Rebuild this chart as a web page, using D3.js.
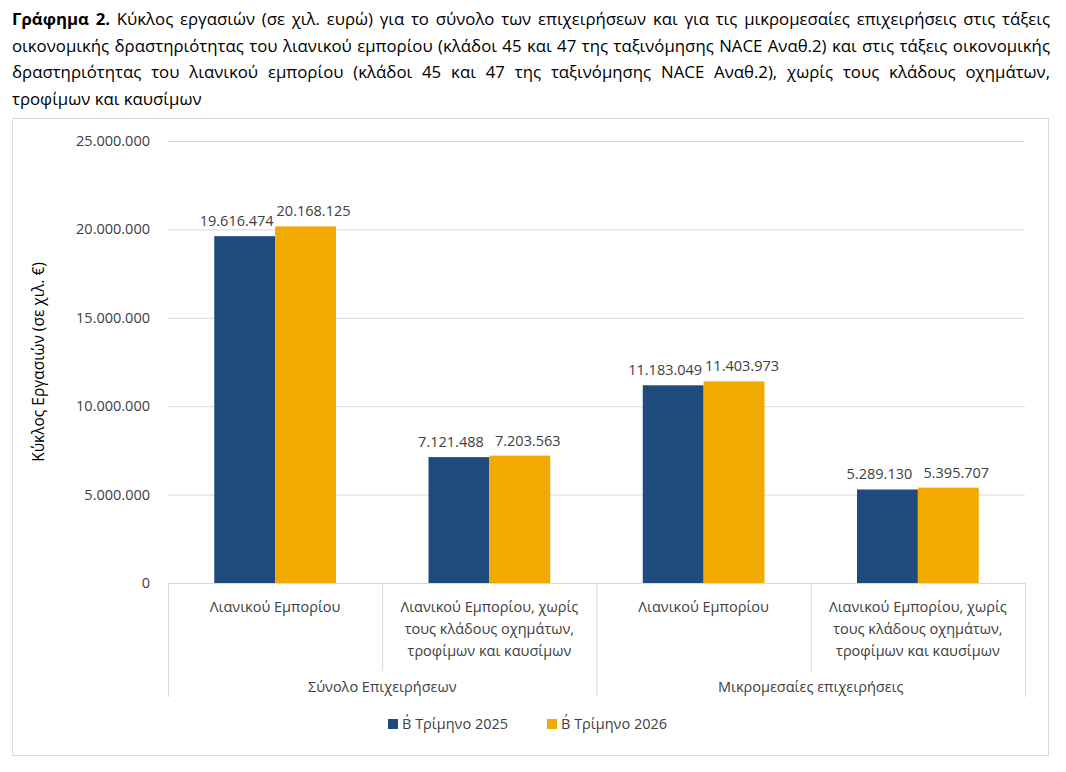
<!DOCTYPE html>
<html><head><meta charset="utf-8">
<script src="https://cdn.jsdelivr.net/npm/d3@7"></script>
<style>
body{margin:0;background:#fff;font-family:"Open Sans","DejaVu Sans",sans-serif;}
#title{position:absolute;left:12px;top:6px;width:1038px;font-size:16.8px;line-height:26.5px;text-align:justify;color:#000;}
#chart{position:absolute;left:0;top:0;}
</style></head><body>
<div id="title"><b>Γράφημα 2.</b> Κύκλος εργασιών (σε χιλ. ευρώ) για το σύνολο των επιχειρήσεων και για τις μικρομεσαίες επιχειρήσεις στις τάξεις οικονομικής δραστηριότητας του λιανικού εμπορίου (κλάδοι 45 και 47 της ταξινόμησης NACE Αναθ.2) και στις τάξεις οικονομικής δραστηριότητας του λιανικού εμπορίου (κλάδοι 45 και 47 της ταξινόμησης NACE Αναθ.2), χωρίς τους κλάδους οχημάτων, τροφίμων και καυσίμων</div>
<svg id="chart" width="1066" height="772"></svg>
<script>
const categories = [
  ["Λιανικού Εμπορίου"],
  ["Λιανικού Εμπορίου, χωρίς", "τους κλάδους οχημάτων,", "τροφίμων και καυσίμων"],
  ["Λιανικού Εμπορίου"],
  ["Λιανικού Εμπορίου, χωρίς", "τους κλάδους οχημάτων,", "τροφίμων και καυσίμων"]
];
const groups = ["Σύνολο Επιχειρήσεων", "Μικρομεσαίες επιχειρήσεις"];
const series = ["Β΄ Τρίμηνο 2025", "Β΄ Τρίμηνο 2026"];
const values2025 = [19616474, 7121488, 11183049, 5289130];
const values2026 = [20168125, 7203563, 11403973, 5395707];
const yTicks = [0, 5000000, 10000000, 15000000, 20000000, 25000000];
const colors = ["#1f4a7c", "#f2a900"];

const svg = d3.select("#chart");
svg.append("rect").attr("x", 12.5).attr("y", 118.5).attr("width", 1036).attr("height", 637)
  .attr("fill", "none").attr("stroke", "#d9d9d9");

const pLeft = 168, pRight = 1025, pTop = 141, pBottom = 583;
const x = d3.scaleBand().domain(d3.range(categories.length)).range([pLeft, pRight]);
const xs = d3.scaleBand().domain([0, 1]).range([0, x.bandwidth()]).paddingOuter(0.76).paddingInner(0);
const y = d3.scaleLinear().domain([0, 25000000]).range([pBottom, pTop]);
const fmt = v => d3.format(",")(v).replace(/,/g, ".");

// grid
svg.append("g").selectAll("line").data(yTicks).join("line")
  .attr("x1", pLeft).attr("x2", pRight).attr("y1", d => y(d) + 0.5).attr("y2", d => y(d) + 0.5)
  .attr("stroke", "#d9d9d9");
svg.append("g").selectAll("text").data(yTicks).join("text")
  .attr("x", 150).attr("y", d => y(d) + 5).attr("text-anchor", "end")
  .attr("font-size", 14.5).attr("fill", "#404040").text(d => d === 0 ? "0" : fmt(d));

svg.append("text").attr("transform", `translate(44,${(pTop + pBottom) / 2}) rotate(-90)`)
  .attr("text-anchor", "middle").attr("font-size", 15.5).attr("fill", "#000")
  .text("Κύκλος Εργασιών (σε χιλ. €)");

const data = values2025.flatMap((v, i) => [{c: i, s: 0, v}, {c: i, s: 1, v: values2026[i]}]);
svg.append("g").selectAll("rect").data(data).join("rect")
  .attr("x", d => x(d.c) + xs(d.s)).attr("width", xs.bandwidth())
  .attr("y", d => y(d.v)).attr("height", d => pBottom - y(d.v))
  .attr("fill", d => colors[d.s]);
svg.append("g").selectAll("text").data(data).join("text")
  .attr("x", d => x(d.c) + xs(d.s) + xs.bandwidth() / 2 + (d.s ? 8 : -8))
  .attr("y", d => y(d.v) - 10).attr("text-anchor", "middle")
  .attr("font-size", 14.5).attr("fill", "#404040").text(d => fmt(d.v));

// category axis
const ax = svg.append("g").attr("stroke", "#d9d9d9");
ax.append("line").attr("x1", pLeft).attr("x2", pRight).attr("y1", pBottom + 0.5).attr("y2", pBottom + 0.5);
d3.range(categories.length + 1).forEach(i => {
  const xx = i < categories.length ? x(i) : pRight;
  const long = i % 2 === 0;
  ax.append("line").attr("x1", xx + 0.5).attr("x2", xx + 0.5).attr("y1", pBottom)
    .attr("y2", long ? 697 : 671);
});
categories.forEach((lines, i) => {
  lines.forEach((l, j) => svg.append("text").attr("x", x(i) + x.bandwidth() / 2)
    .attr("y", 612 + j * 22).attr("text-anchor", "middle").attr("font-size", 14.5)
    .attr("fill", "#404040").text(l));
});
groups.forEach((g, i) => svg.append("text").attr("x", x(i * 2) + x.bandwidth())
  .attr("y", 692).attr("text-anchor", "middle").attr("font-size", 14.5)
  .attr("fill", "#404040").text(g));

// legend
const lx = [388, 547];
series.forEach((s, i) => {
  svg.append("rect").attr("x", lx[i]).attr("y", 719).attr("width", 10).attr("height", 10).attr("fill", colors[i]);
  svg.append("text").attr("x", lx[i] + 14).attr("y", 729).attr("font-size", 14.5)
    .attr("fill", "#404040").text(s);
});
</script>
</body></html>
